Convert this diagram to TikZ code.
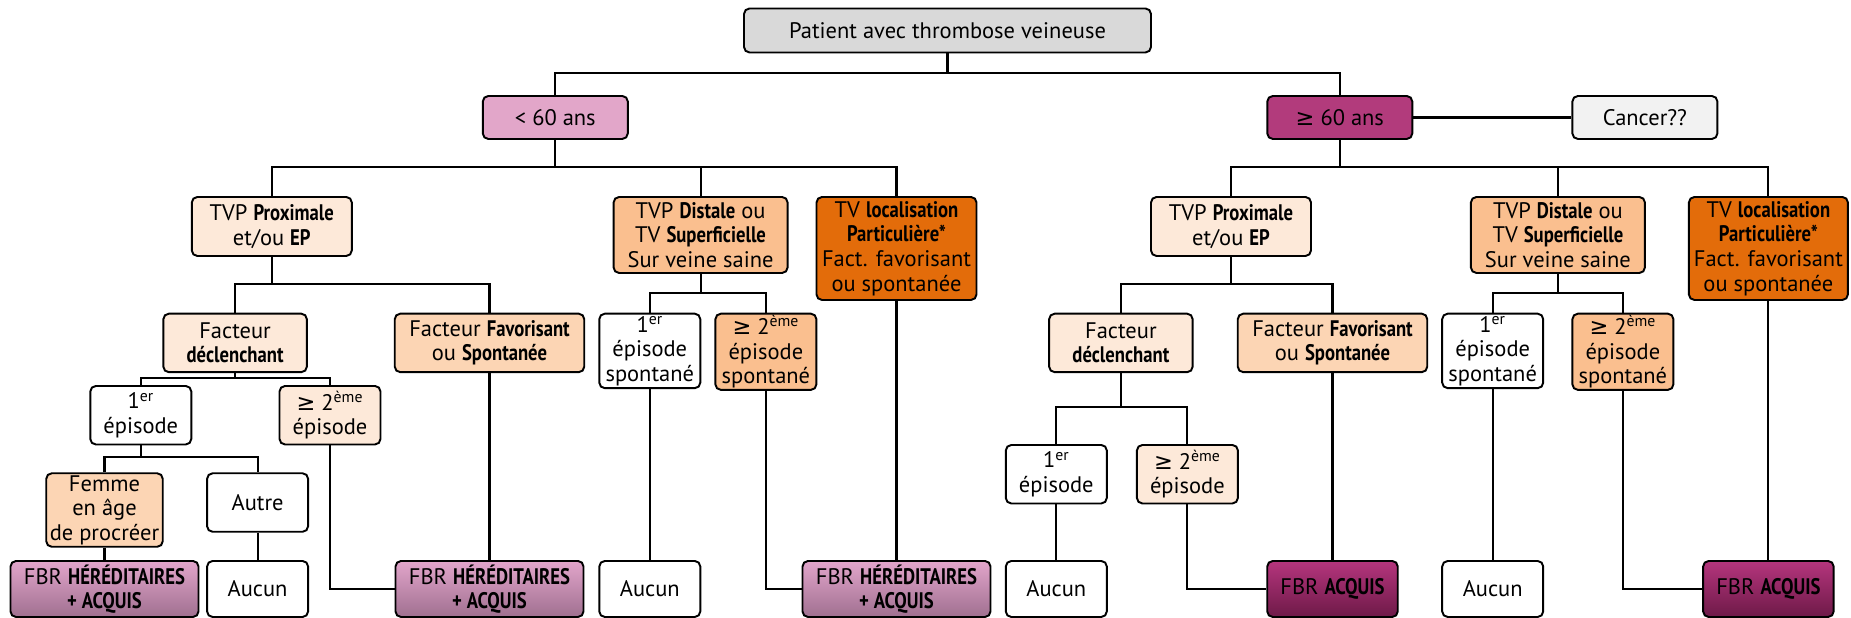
\documentclass[tikz,border=0pt]{standalone}
\usepackage{fontspec}
\setmainfont{PT Sans}[BoldFeatures={FakeStretch=0.83}]
\newfontfamily\symfont{DejaVu Sans}
\newcommand{\sge}{{\symfont ≥}}

\definecolor{gris}{HTML}{D9D9D9}
\definecolor{grisclair}{HTML}{F2F2F2}
\definecolor{rose}{HTML}{E2A6C9}
\definecolor{prune}{HTML}{B23B7C}
\definecolor{peche}{HTML}{FDE9D9}
\definecolor{saumon}{HTML}{FCD5B4}
\definecolor{abricot}{HTML}{FABF8F}
\definecolor{orange}{HTML}{E36C0A}
\definecolor{herTop}{HTML}{E2A5CB}
\definecolor{herBot}{HTML}{A07090}
\definecolor{acqTop}{HTML}{B5357D}
\definecolor{acqBot}{HTML}{6E1A48}

\begin{document}
\begin{tikzpicture}[
	box/.style={draw, rounded corners=1.1mm, line width=1.1pt, align=center, inner sep=1pt, anchor=north,
		font=\fontsize{12.8}{14}\selectfont},
	small/.style={box, minimum width=2.02cm, minimum height=1.17cm},
	tall/.style={box, minimum width=2.02cm, minimum height=1.49cm},
	hered/.style={box, minimum width=3.76cm, minimum height=1.12cm, top color=herTop, bottom color=herBot},
	acquis/.style={box, minimum width=2.61cm, minimum height=1.12cm, top color=acqTop, bottom color=acqBot},
	]
	\useasboundingbox (0,0) rectangle (37.02,-12.34);
	
	%-----------------------
	% Customizable heights (top of each row)
	%-----------------------
	\def\hroot{-0.15}  % Row 1: patient
	\def\hage{-1.9}    % Row 2: age
	\def\htype{-3.92}  % Row 3: type of thrombosis
	\def\hfact{-6.254} % Row 4: facteur / episodes spontanes
	\def\hepL{-7.7}    % Row 5: episodes (left)
	\def\hepR{-8.88}   % Row 5: episodes (right)
	\def\hfem{-9.446}  % Row 6: femme / autre
	\def\hfbr{-11.2}   % Row 7: FBR / aucun
	
	% heights of the horizontal branches
	\def\bA{-1.454}
	\def\bB{-3.346}
	\def\bProx{-5.68}
	\def\bDist{-5.854}
	\def\bDeclL{-7.566}
	\def\bDeclR{-8.146}
	\def\bEp{-9.146}
	
	%-----------------------
	% Row 1: patient
	%-----------------------
	\node[box, fill=gris, minimum width=8.14cm, minimum height=0.88cm] (root) at (18.95,\hroot) {Patient avec thrombose veineuse};
	
	%-----------------------
	% Row 2: age
	%-----------------------
	\node[box, fill=rose, minimum width=2.9cm, minimum height=0.86cm] (lt60) at (11.106,\hage) {< 60 ans};
	\node[box, fill=prune, minimum width=2.9cm, minimum height=0.86cm] (ge60) at (26.796,\hage) {\sge{} 60 ans};
	\node[box, fill=grisclair, minimum width=2.9cm, minimum height=0.86cm] (cancer) at (32.898,\hage) {Cancer??};
	
	%-----------------------
	% Row 3: type of thrombosis
	%-----------------------
	\node[box, fill=peche, minimum width=3.2cm, minimum height=1.18cm] (proxL) at (5.436,\htype) {TVP \textbf{Proximale}\\et/ou \textbf{EP}};
	\node[box, fill=abricot, minimum width=3.48cm, minimum height=1.52cm] (distL) at (14.012,\htype) {TVP \textbf{Distale} ou\\TV \textbf{Superficielle}\\Sur veine saine};
	\node[box, fill=orange, minimum width=3.2cm, minimum height=2.06cm] (locL) at (17.93,\htype) {TV \textbf{localisation}\\\textbf{Particulière*}\\Fact. favorisant\\ou spontanée};
	
	\node[box, fill=peche, minimum width=3.2cm, minimum height=1.18cm] (proxR) at (24.62,\htype) {TVP \textbf{Proximale}\\et/ou \textbf{EP}};
	\node[box, fill=abricot, minimum width=3.48cm, minimum height=1.52cm] (distR) at (31.158,\htype) {TVP \textbf{Distale} ou\\TV \textbf{Superficielle}\\Sur veine saine};
	\node[box, fill=orange, minimum width=3.18cm, minimum height=2.06cm] (locR) at (35.368,\htype) {TV \textbf{localisation}\\\textbf{Particulière*}\\Fact. favorisant\\ou spontanée};
	
	%-----------------------
	% Row 4: facteurs and spontaneous episodes
	%-----------------------
	\node[box, fill=peche, minimum width=2.87cm, minimum height=1.17cm] (declL) at (4.702,\hfact) {Facteur\\\textbf{déclenchant}};
	\node[box, fill=saumon, minimum width=3.79cm, minimum height=1.17cm] (favL) at (9.79,\hfact) {Facteur \textbf{Favorisant}\\ou \textbf{Spontanée}};
	\node[tall, fill=white] (spont1L) at (12.996,\hfact) {1\textsuperscript{er}\\épisode\\spontané};
	\node[tall, fill=abricot] (spont2L) at (15.318,\hfact) {\sge{} 2\textsuperscript{ème}\\épisode\\spontané};
	
	\node[box, fill=peche, minimum width=2.87cm, minimum height=1.17cm] (declR) at (22.418,\hfact) {Facteur\\\textbf{déclenchant}};
	\node[box, fill=saumon, minimum width=3.79cm, minimum height=1.17cm] (favR) at (26.65,\hfact) {Facteur \textbf{Favorisant}\\ou \textbf{Spontanée}};
	\node[tall, fill=white] (spont1R) at (29.854,\hfact) {1\textsuperscript{er}\\épisode\\spontané};
	\node[tall, fill=abricot] (spont2R) at (32.458,\hfact) {\sge{} 2\textsuperscript{ème}\\épisode\\spontané};
	
	%-----------------------
	% Row 5: episodes
	%-----------------------
	\node[small, fill=white] (ep1L) at (2.816,\hepL) {1\textsuperscript{er}\\épisode};
	\node[small, fill=peche] (ep2L) at (6.6,\hepL) {\sge{} 2\textsuperscript{ème}\\épisode};
	
	\node[small, fill=white] (ep1R) at (21.126,\hepR) {1\textsuperscript{er}\\épisode};
	\node[small, fill=peche] (ep2R) at (23.748,\hepR) {\sge{} 2\textsuperscript{ème}\\épisode};
	
	%-----------------------
	% Row 6: femme / autre
	%-----------------------
	\node[box, fill=saumon, minimum width=2.33cm, minimum height=1.47cm] (femme) at (2.09,\hfem) {Femme\\en âge\\de procréer};
	\node[small, fill=white] (autre) at (5.152,\hfem) {Autre};
	
	%-----------------------
	% Row 7: FBR / aucun
	%-----------------------
	\node[hered] (fbr1) at (2.09,\hfbr) {FBR \textbf{HÉRÉDITAIRES}\\\textbf{+ ACQUIS}};
	\node[small, minimum height=1.12cm, fill=white] (aucun1) at (5.152,\hfbr) {Aucun};
	\node[hered] (fbr2) at (9.79,\hfbr) {FBR \textbf{HÉRÉDITAIRES}\\\textbf{+ ACQUIS}};
	\node[small, minimum height=1.12cm, fill=white] (aucun2) at (12.996,\hfbr) {Aucun};
	\node[hered] (fbr3) at (17.93,\hfbr) {FBR \textbf{HÉRÉDITAIRES}\\\textbf{+ ACQUIS}};
	\node[small, minimum height=1.12cm, fill=white] (aucun3) at (21.126,\hfbr) {Aucun};
	\node[acquis] (acq1) at (26.65,\hfbr) {FBR \textbf{ACQUIS}};
	\node[small, minimum height=1.12cm, fill=white] (aucun4) at (29.854,\hfbr) {Aucun};
	\node[acquis] (acq2) at (35.368,\hfbr) {FBR \textbf{ACQUIS}};
	
	%-----------------------
	% Connections
	%-----------------------
	\tikzset{connect/.style={line width=1.2pt}}
	
	% patient -> age
	\draw[connect] (root.south) -- (root.south |- 0,\bA);
	\draw[connect] (lt60.north) |- (root.south |- 0,\bA) -| (ge60.north);
	\draw[connect] (ge60.east) -- (cancer.west);
	
	% age -> type
	\draw[connect] (lt60.south) -- (lt60.south |- 0,\bB);
	\draw[connect] (proxL.north) |- (lt60.south |- 0,\bB) -| (locL.north);
	\draw[connect] (distL.north) -- (distL.north |- 0,\bB);
	\draw[connect] (ge60.south) -- (ge60.south |- 0,\bB);
	\draw[connect] (proxR.north) |- (ge60.south |- 0,\bB) -| (locR.north);
	\draw[connect] (distR.north) -- (distR.north |- 0,\bB);
	
	% type -> facteur
	\draw[connect] (proxL.south) -- (proxL.south |- 0,\bProx);
	\draw[connect] (declL.north) |- (proxL.south |- 0,\bProx) -| (favL.north);
	\draw[connect] (distL.south) -- (distL.south |- 0,\bDist);
	\draw[connect] (spont1L.north) |- (distL.south |- 0,\bDist) -| (spont2L.north);
	\draw[connect] (proxR.south) -- (proxR.south |- 0,\bProx);
	\draw[connect] (declR.north) |- (proxR.south |- 0,\bProx) -| (favR.north);
	\draw[connect] (distR.south) -- (distR.south |- 0,\bDist);
	\draw[connect] (spont1R.north) |- (distR.south |- 0,\bDist) -| (spont2R.north);
	
	% facteur declenchant -> episodes
	\draw[connect] (declL.south) -- (declL.south |- 0,\bDeclL);
	\draw[connect] (ep1L.north) |- (declL.south |- 0,\bDeclL) -| (ep2L.north);
	\draw[connect] (declR.south) -- (declR.south |- 0,\bDeclR);
	\draw[connect] (ep1R.north) |- (declR.south |- 0,\bDeclR) -| (ep2R.north);
	
	% 1er episode -> femme / autre
	\draw[connect] (ep1L.south) -- (ep1L.south |- 0,\bEp);
	\draw[connect] (femme.north) |- (ep1L.south |- 0,\bEp) -| (autre.north);
	
	% down to FBR / aucun
	\draw[connect] (femme.south) -- (fbr1.north);
	\draw[connect] (autre.south) -- (aucun1.north);
	\draw[connect] (ep2L.south) |- (fbr2.west);
	\draw[connect] (favL.south) -- (fbr2.north);
	\draw[connect] (spont1L.south) -- (aucun2.north);
	\draw[connect] (spont2L.south) |- (fbr3.west);
	\draw[connect] (locL.south) -- (fbr3.north);
	\draw[connect] (ep1R.south) -- (aucun3.north);
	\draw[connect] (ep2R.south) |- (acq1.west);
	\draw[connect] (favR.south) -- (acq1.north);
	\draw[connect] (spont1R.south) -- (aucun4.north);
	\draw[connect] (spont2R.south) |- (acq2.west);
	\draw[connect] (locR.south) -- (acq2.north);
	
\end{tikzpicture}
\end{document}
